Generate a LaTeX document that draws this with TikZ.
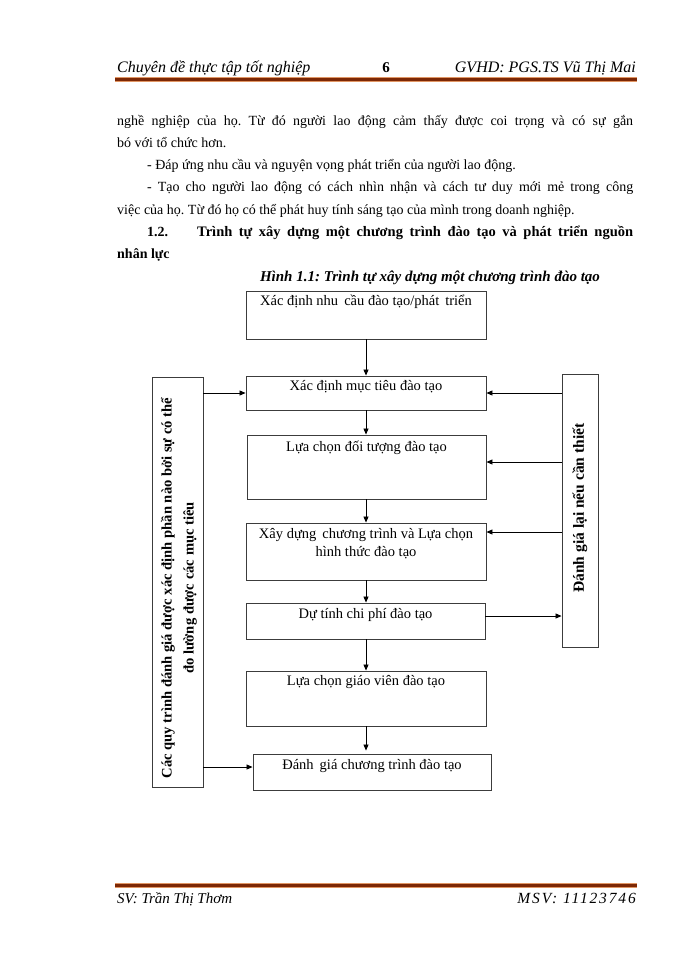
\documentclass[tikz,border=0pt]{standalone}
\usepackage{fontspec}
\setmainfont{Liberation Serif}
\usetikzlibrary{arrows.meta,calc}
\definecolor{hdr}{RGB}{125,40,5}
\definecolor{hdrlight}{RGB}{225,150,100}
\definecolor{boxline}{RGB}{60,60,60}
\frenchspacing
\begin{document}
\frenchspacing
\begin{tikzpicture}[x=1pt,y=-1pt,
  txt/.style={inner sep=0pt, anchor=base west, font=\fontsize{14}{16}\selectfont},
  hdrtxt/.style={inner sep=0pt, font=\fontsize{16}{18}\selectfont\itshape},
  flowbox/.style={draw=boxline, line width=0.9pt, rectangle, inner sep=0pt},
  btxt/.style={inner sep=0pt, anchor=base, font=\fontsize{14.5}{17}\selectfont},
  sidetxt/.style={inner sep=0pt, rotate=90, align=center, font=\fontsize{14.6}{22}\selectfont\bfseries},
  arr/.style={-{Triangle[length=6pt,width=5pt]}, line width=0.8pt}
]
\useasboundingbox[fill=white] (0,0) rectangle (700,960);

% header
\node[hdrtxt, anchor=base west] (h1) at (117,73) {Chuyên đề thực tập tốt nghiệp};
\node[inner sep=0pt, anchor=base, font=\fontsize{15}{18}\selectfont\bfseries] (h2) at (386,73) {6};
\node[hdrtxt, anchor=base east] (h3) at (636,73) {GVHD: PGS.TS Vũ Thị Mai};
\coordinate (hl1) at (115,80);
\coordinate (hl2) at (637,80);
\draw[hdrlight, line width=5pt] (hl1) -- (hl2);
\draw[hdr, line width=3pt] (hl1) -- (hl2);

% body text
\node[txt] (l1) at (117,126) {\makebox[516pt][s]{nghề nghiệp của họ. Từ đó người lao động cảm thấy được coi trọng và có sự gắn}};
\node[txt] (l2) at (117,148) {bó với tổ chức hơn.};
\node[txt] (l3) at (147,170) {- Đáp ứng nhu cầu và nguyện vọng phát triển của người lao động.};
\node[txt] (l4) at (147,192) {\makebox[486pt][s]{- Tạo cho người lao động có cách nhìn nhận và cách tư duy mới mẻ trong công}};
\node[txt] (l5) at (117,214) {việc của họ. Từ đó họ có thể phát huy tính sáng tạo của mình trong doanh nghiệp.};
\node[txt, font=\fontsize{14}{16}\selectfont\bfseries] (l6a) at (147,236) {1.2.};
\node[txt, font=\fontsize{14.5}{16}\selectfont\bfseries] (l6b) at (197,236) {\makebox[436pt][s]{Trình tự xây dựng một chương trình đào tạo và phát triển nguồn}};
\node[txt, font=\fontsize{14}{16}\selectfont\bfseries] (l7) at (117,258) {nhân lực};

% caption
\node[inner sep=0pt, anchor=base, font=\fontsize{15}{17}\selectfont\bfseries\itshape] (cap) at (430,281) {Hình 1.1: Trình tự xây dựng một chương trình đào tạo};

% boxes
\node[flowbox, minimum width=240pt, minimum height=48pt] (A) at (366,315) {};
\node[flowbox, minimum width=240pt, minimum height=34pt] (B) at (366,393) {};
\node[flowbox, minimum width=239pt, minimum height=64pt] (C) at (366.5,467) {};
\node[flowbox, minimum width=240pt, minimum height=57pt] (D) at (366,551.5) {};
\node[flowbox, minimum width=239pt, minimum height=36pt] (E) at (365.5,621) {};
\node[flowbox, minimum width=240pt, minimum height=55pt] (F) at (366,698.5) {};
\node[flowbox, minimum width=238pt, minimum height=36pt] (G) at (372,772) {};
\node[flowbox, minimum width=51pt, minimum height=410pt] (L) at (177.5,582) {};
\node[flowbox, minimum width=36pt, minimum height=273pt] (R) at (580,510.5) {};

% box texts
\node[btxt] (At) at ([yshift=-15pt]A.north) {Xác định nhu\, cầu đào tạo/phát\, triển};
\node[btxt] (Bt) at ([yshift=-15pt]B.north) {Xác định mục tiêu đào tạo};
\node[btxt] (Ct) at ([yshift=-17pt]C.north) {Lựa chọn đối tượng đào tạo};
\node[btxt] (Dt1) at ([yshift=-16pt]D.north) {Xây dựng\, chương trình và Lựa chọn};
\node[btxt] (Dt2) at ([yshift=-34pt]D.north) {hình thức đào tạo};
\node[btxt] (Et) at ([yshift=-16pt]E.north) {Dự tính chi phí đào tạo};
\node[btxt] (Ft) at ([yshift=-15pt]F.north) {Lựa chọn giáo viên đào tạo};
\node[btxt] (Gt) at ([yshift=-16pt]G.north) {Đánh\, giá chương trình đào tạo};
\node[sidetxt] (Lt) at (179,588) {Các quy trình đánh giá được xác định phần nào bởi sự có thể\\đo lường được các mục tiêu};
\node[sidetxt, font=\fontsize{15.5}{18}\selectfont\bfseries] (Rt) at (580,508) {Đánh giá lại nếu cần thiết};

% vertical flow
\draw[arr] (A.south) -- (B.north);
\draw[arr] (B.south) -- (C.north -| B.south);
\draw[arr] (C.south -| B.south) -- (D.north);
\draw[arr] (D.south) -- (E.north -| D.south);
\draw[arr] (E.south -| D.south) -- (F.north);
\draw[arr, shorten >=3pt] (F.south) -- (F.south |- G.north);

% left feedback
\draw[arr] (L.east |- B.west) -- (B.west);
\coordinate (LG) at ($(L.east |- G.west)+(0,-5)$);
\draw[arr] (LG) -- (LG -| G.west);

% right feedback
\draw[arr] (R.west |- B.east) -- (B.east);
\coordinate (RC) at ($(R.west |- C.east)+(0,-5)$);
\draw[arr] (RC) -- (RC -| C.east);
\coordinate (RD) at ($(R.west |- D.east)+(0,-19.5)$);
\draw[arr] (RD) -- (RD -| D.east);
\coordinate (ER) at ($(E.east)+(0,-5)$);
\draw[arr] (ER) -- (ER -| R.west);

% footer
\coordinate (fl1) at (115,885);
\coordinate (fl2) at (637,885);
\draw[hdrlight, line width=5pt] (fl1) -- (fl2);
\draw[hdr, line width=3pt] (fl1) -- (fl2);
\node[hdrtxt, anchor=base west, font=\fontsize{15}{18}\selectfont\itshape] (f1) at (117,903) {SV: Trần Thị Thơm};
\node[hdrtxt, anchor=base east, font=\fontsize{15.5}{18}\selectfont\itshape\addfontfeatures{LetterSpace=12}] (f2) at (636,903) {MSV: 11123746};
\end{tikzpicture}
\end{document}
